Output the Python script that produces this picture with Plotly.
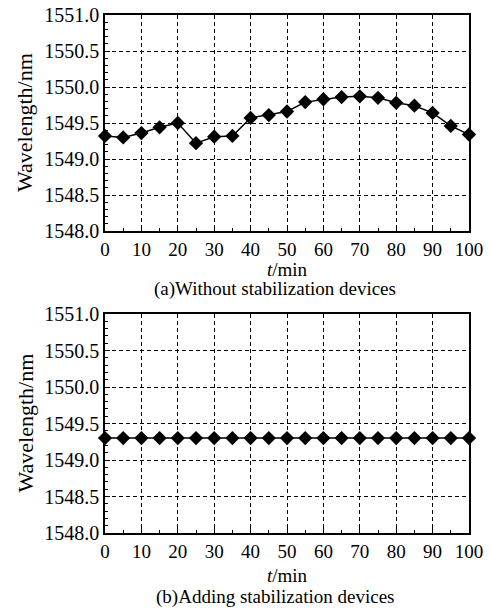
import plotly.graph_objects as go
from plotly.subplots import make_subplots

t_min = [0, 5, 10, 15, 20, 25, 30, 35, 40, 45, 50, 55, 60, 65, 70, 75, 80, 85, 90, 95, 100]
wl_without = [1549.32, 1549.30, 1549.36, 1549.44, 1549.50, 1549.22, 1549.31, 1549.32,
              1549.57, 1549.61, 1549.66, 1549.79, 1549.83, 1549.86, 1549.87, 1549.85,
              1549.78, 1549.74, 1549.64, 1549.46, 1549.34]
wl_with = [1549.30, 1549.30, 1549.30, 1549.30, 1549.30, 1549.30, 1549.30, 1549.30,
           1549.30, 1549.30, 1549.30, 1549.30, 1549.30, 1549.30, 1549.30, 1549.30,
           1549.30, 1549.30, 1549.30, 1549.30, 1549.30]
x_ticks = [0, 10, 20, 30, 40, 50, 60, 70, 80, 90, 100]
y_ticks = [1548.0, 1548.5, 1549.0, 1549.5, 1550.0, 1550.5, 1551.0]
captions = ["(a)Without stabilization devices", "(b)Adding stabilization devices"]
y_title = "Wavelength/nm"
x_title = "<i>t</i>/min"

W, H = 491, 610
FONT = "Liberation Serif"

fig = make_subplots(rows=2, cols=1)

for r, ys in enumerate([wl_without, wl_with], start=1):
    fig.add_trace(go.Scatter(
        x=t_min, y=ys, mode="lines+markers",
        line=dict(color="black", width=1.5),
        marker=dict(symbol="diamond", size=11, color="black"),
        showlegend=False, cliponaxis=False), row=r, col=1)

xdom = [105 / W, 469 / W]
ydoms = [[1 - 231 / H, 1 - 15 / H], [1 - 533 / H, 1 - 314 / H]]

axis_common = dict(
    showline=True, linecolor="black", linewidth=1.5, mirror=True,
    showgrid=True, gridcolor="black", gridwidth=1.3, griddash="4px,3px",
    ticks="inside", ticklen=5, tickcolor="black",
    zeroline=False, automargin=False,
)

for i in range(2):
    sfx = "" if i == 0 else "2"
    fig.layout["xaxis" + sfx].update(
        domain=xdom, range=[0, 100], tickvals=x_ticks,
        tickfont=dict(family=FONT, size=19, color="black"),
        minor=dict(ticks="inside", ticklen=3, dtick=5, tickcolor="black", showgrid=False),
        ticklabelstandoff=0,
        **axis_common)
    fig.layout["yaxis" + sfx].update(
        domain=ydoms[i], range=[1548, 1551], tickvals=y_ticks,
        ticktext=[f"{v:.1f}" for v in y_ticks],
        tickfont=dict(family=FONT, size=20, color="black"),
        minor=dict(ticks="inside", ticklen=3, dtick=0.1, tickcolor="black", showgrid=False),
        ticklabelstandoff=0,
        **axis_common)

annos = []
for i in range(2):
    top_px, bot_px = (15, 231) if i == 0 else (314, 533)
    mid = (top_px + bot_px) / 2
    annos.append(dict(text=y_title, x=25 / W, y=1 - mid / H, xref="paper", yref="paper",
                      textangle=-90, showarrow=False, xanchor="center", yanchor="middle",
                      font=dict(family=FONT, size=22, color="black")))
    xt_px = 269 if i == 0 else 575
    cap_px = 289 if i == 0 else 597
    annos.append(dict(text=x_title, x=287 / W, y=1 - xt_px / H, xref="paper", yref="paper",
                      showarrow=False, xanchor="center", yanchor="middle",
                      font=dict(family=FONT, size=19, color="black")))
    annos.append(dict(text=captions[i], x=275 / W, y=1 - cap_px / H, xref="paper", yref="paper",
                      showarrow=False, xanchor="center", yanchor="middle",
                      font=dict(family=FONT, size=19, color="black")))

fig.update_layout(
    width=W, height=H,
    margin=dict(l=0, r=0, t=0, b=0, autoexpand=False),
    paper_bgcolor="white", plot_bgcolor="white",
    annotations=annos,
)

fig.write_html("out.html", config={"displayModeBar": False},
               post_script="document.body.style.margin='0';document.body.style.overflow='hidden';")
